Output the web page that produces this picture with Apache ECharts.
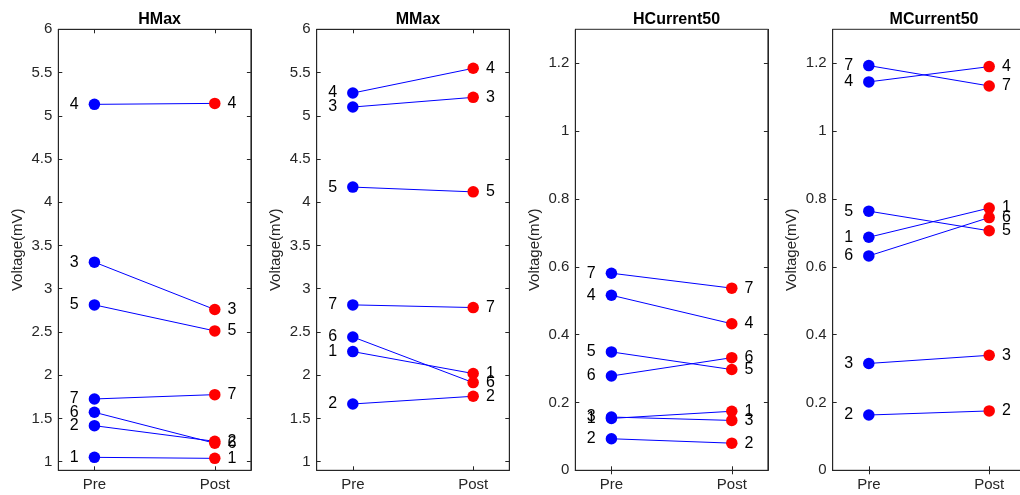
<!DOCTYPE html>
<html>
<head>
<meta charset="utf-8">
<script src="https://cdn.jsdelivr.net/npm/echarts@6/dist/echarts.min.js"></script>
<style>
  html, body { margin: 0; padding: 0; background: #ffffff; }
  #chart { width: 1020px; height: 495px; }
</style>
</head>
<body>
<div id="chart"></div>
<script>
// Pre/Post values per subject (index 0 = subject 1 ... index 6 = subject 7)
const categories = ['Pre', 'Post'];
const subjects = ['1', '2', '3', '4', '5', '6', '7'];

const hmaxPre  = [1.050, 1.416, 3.307, 5.132, 2.813, 1.571, 1.725];
const hmaxPost = [1.038, 1.235, 2.759, 5.143, 2.512, 1.213, 1.775];

const mmaxPre  = [2.273, 1.667, 5.101, 5.263, 4.175, 2.442, 2.813];
const mmaxPost = [2.019, 1.756, 5.213, 5.549, 4.120, 1.914, 2.782];

const hcurPre  = [0.153, 0.093, 0.157, 0.516, 0.349, 0.278, 0.581];
const hcurPost = [0.174, 0.080, 0.147, 0.432, 0.297, 0.332, 0.537];

const mcurPre  = [0.687, 0.163, 0.315, 1.145, 0.764, 0.632, 1.193];
const mcurPost = [0.773, 0.175, 0.339, 1.190, 0.706, 0.745, 1.133];

const maxTicks = [1, 1.5, 2, 2.5, 3, 3.5, 4, 4.5, 5, 5.5, 6];
const currentTicks = [0, 0.2, 0.4, 0.6, 0.8, 1, 1.2];

const panels = [
  { title: 'HMax',        pre: hmaxPre, post: hmaxPost, yMin: 0.9, yMax: 6,   ticks: maxTicks,     left: 58.3 },
  { title: 'MMax',        pre: mmaxPre, post: mmaxPost, yMin: 0.9, yMax: 6,   ticks: maxTicks,     left: 316.7 },
  { title: 'HCurrent50',  pre: hcurPre, post: hcurPost, yMin: 0,   yMax: 1.3, ticks: currentTicks, left: 575.3 },
  { title: 'MCurrent50',  pre: mcurPre, post: mcurPost, yMin: 0,   yMax: 1.3, ticks: currentTicks, left: 832.7 }
];

const AX = '#262626';
const FONT = '"Liberation Sans", Arial, Helvetica, sans-serif';
const PANEL_W = 192.6;
const PANEL_TOP = 29.3;
const PANEL_H = 441;
const xPos = categories.map((c, i) => i + 1);

const grid = [], xAxis = [], yAxis = [], title = [], series = [];

panels.forEach((p, k) => {
  grid.push({
    left: p.left, top: PANEL_TOP, width: PANEL_W, height: PANEL_H,
    containLabel: false, outerBoundsMode: 'none',
    show: true, borderColor: AX, borderWidth: 1, backgroundColor: 'transparent'
  });
  title.push({
    text: p.title,
    left: p.left + PANEL_W / 2, top: 7, textAlign: 'center',
    textStyle: { fontFamily: FONT, fontSize: 16, fontWeight: 'bold', color: '#000000' }
  });
  const xBase = {
    type: 'value', gridIndex: k, min: 0.7, max: 2.3,
    axisLine: { show: true, lineStyle: { color: AX, width: 1 } },
    axisTick: { show: true, inside: true, length: 4, customValues: xPos, lineStyle: { color: AX } },
    splitLine: { show: false }
  };
  xAxis.push(Object.assign({}, xBase, {
    position: 'bottom',
    axisLabel: {
      show: true, customValues: xPos, margin: 7,
      fontFamily: FONT, fontSize: 15, color: AX,
      formatter: v => categories[Math.round(v) - 1]
    }
  }));
  xAxis.push(Object.assign({}, xBase, { position: 'top', axisLabel: { show: false } }));

  const yBase = {
    type: 'value', gridIndex: k, min: p.yMin, max: p.yMax,
    axisLine: { show: true, lineStyle: { color: AX, width: 1 } },
    axisTick: { show: true, inside: true, length: 4, customValues: p.ticks, lineStyle: { color: AX } },
    splitLine: { show: false }
  };
  yAxis.push(Object.assign({}, yBase, {
    position: 'left',
    name: 'Voltage(mV)', nameLocation: 'middle', nameGap: 33,
    nameTextStyle: { fontFamily: FONT, fontSize: 15, color: AX },
    axisLabel: {
      show: true, customValues: p.ticks, margin: 6,
      fontFamily: FONT, fontSize: 15, color: AX,
      formatter: v => String(v)
    }
  }));
  yAxis.push(Object.assign({}, yBase, { position: 'right', axisLabel: { show: false } }));

  subjects.forEach((s, i) => {
    series.push({
      type: 'line',
      xAxisIndex: 2 * k, yAxisIndex: 2 * k,
      symbol: 'circle', symbolSize: 11.5,
      lineStyle: { color: '#0000ff', width: 1 },
      z: 2,
      data: [
        {
          value: [xPos[0], p.pre[i]],
          itemStyle: { color: '#0000ff' },
          label: { show: true, position: 'left', distance: 10, formatter: s }
        },
        {
          value: [xPos[1], p.post[i]],
          itemStyle: { color: '#ff0000' },
          label: { show: true, position: 'right', distance: 7, formatter: s }
        }
      ],
      label: { fontFamily: FONT, fontSize: 16, color: '#000000' },
      emphasis: { disabled: true }
    });
  });
});

const chart = echarts.init(document.getElementById('chart'), null, { renderer: 'canvas' });
chart.setOption({
  animation: false,
  backgroundColor: '#ffffff',
  title, grid, xAxis, yAxis, series
});
</script>
</body>
</html>
